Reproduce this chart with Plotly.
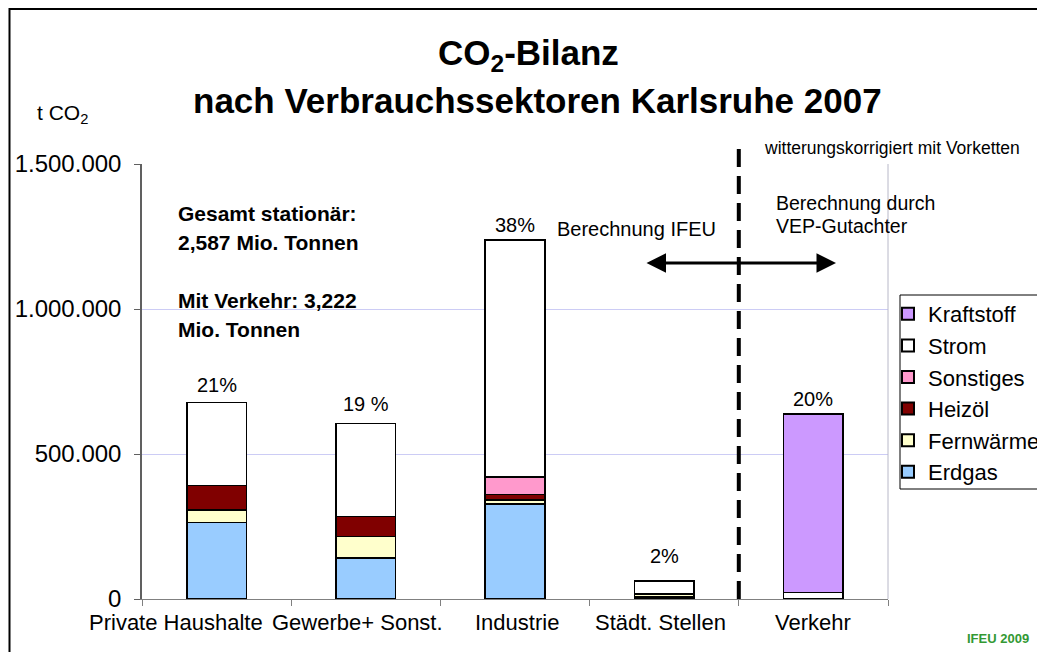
import plotly.graph_objects as go

categories = ["Private Haushalte", "Gewerbe+ Sonst.", "Industrie", "Städt. Stellen", "Verkehr"]
erdgas = [263000, 141000, 328000, 7000, None]
fernwaerme = [44000, 75000, 13000, 10000, None]
heizoel = [84000, 69000, 20000, 2000, None]
sonstiges = [None, None, 60000, None, None]
strom = [287000, 321000, 817000, 43000, 23000]
kraftstoff = [None, None, None, None, 615000]
percent_labels = ["21%", "19 %", "38%", "2%", "20%"]
y_ticks = [0, 500000, 1000000, 1500000]

series = [
    ("Erdgas", erdgas, "#99CCFF"),
    ("Fernwärme", fernwaerme, "#FFFFCC"),
    ("Heizöl", heizoel, "#800000"),
    ("Sonstiges", sonstiges, "#FF99CC"),
    ("Strom", strom, "#FFFFFF"),
    ("Kraftstoff", kraftstoff, "#CC99FF"),
]

FONT = "Liberation Sans, Arial, sans-serif"

# page offset (default body margin of the html page)
OFF = 8
# plot area in reference pixels
L, R, T, B = 142, 888, 164, 599
W, H = 1045 - OFF, 652 - OFF


def px(x):
    return (x - L) / (R - L)


def py(y):
    return (B - y) / (B - T)


fig = go.Figure()
for name, vals, col in series:
    fig.add_trace(go.Bar(
        x=categories, y=vals, name=name,
        marker=dict(color=col, line=dict(color="black", width=1.5)),
    ))

totals = [sum(v for v in vals if v is not None) for vals in zip(*[s[1] for s in series])]
shifts = [4, 6, 2, 12, 2]
annotations = []
for cat, tot, lab, sh in zip(categories, totals, percent_labels, shifts):
    annotations.append(dict(x=cat, y=tot, text=lab, showarrow=False, yanchor="bottom",
                            yshift=sh, font=dict(size=20, color="black", family=FONT)))

# category labels (Excel-like placement, slightly shifted to avoid overlap)
label_xshift = [-41, -8, 2, -4, 0]
for cat, xs in zip(categories, label_xshift):
    annotations.append(dict(x=cat, y=0, text=cat, showarrow=False, yanchor="middle",
                            xshift=xs, yshift=-23,
                            font=dict(size=22, color="black", family=FONT)))


def txt(text, x, y, size, xanchor="left", bold=False, color="black"):
    if bold:
        text = "<b>" + text + "</b>"
    annotations.append(dict(xref="paper", yref="paper", x=px(x), y=py(y), text=text,
                            showarrow=False, xanchor=xanchor, yanchor="middle", align="left",
                            font=dict(size=size, color=color, family=FONT)))


txt("CO<sub>2</sub>-Bilanz", 528, 55, 35, xanchor="center", bold=True)
txt("nach Verbrauchssektoren Karlsruhe 2007", 537, 100, 35, xanchor="center", bold=True)
txt("t CO<sub>2</sub>", 35, 114, 21)
txt("witterungskorrigiert mit Vorketten", 762, 148, 17.5)
txt("Berechnung durch", 774, 203, 19.5)
txt("VEP-Gutachter", 774, 226, 19.5)
txt("Berechnung IFEU", 555, 229, 20)
txt("Gesamt stationär:", 176, 213, 21, bold=True)
txt("2,587 Mio. Tonnen", 176, 242, 21, bold=True)
txt("Mit Verkehr: 3,222", 176, 300, 21, bold=True)
txt("Mio. Tonnen", 176, 329, 21, bold=True)
txt("IFEU 2009", 1031, 638, 13, xanchor="right", bold=True, color="#339933")

# double arrow
annotations.append(dict(xref="paper", yref="paper", x=px(836), y=py(263), ax=-191, ay=0,
                        text="", showarrow=True, arrowside="end+start", arrowhead=2,
                        arrowsize=1.3, arrowwidth=3, arrowcolor="black"))

shapes = [
    # dashed separator between Städt. Stellen and Verkehr
    dict(type="line", xref="x domain", yref="paper", x0=0.8, x1=0.8, y0=0, y1=py(140),
         line=dict(color="black", width=4, dash="18px,9px")),
    # right border of plot area
    dict(type="line", xref="paper", yref="paper", x0=1, x1=1, y0=0, y1=1,
         line=dict(color="#B8B8C8", width=1)),
    # outer frame
    dict(type="rect", xref="paper", yref="paper", x0=px(OFF + 1.5), x1=px(1100), y0=py(700),
         y1=py(OFF + 1), line=dict(color="black", width=2)),
    # legend box
    dict(type="rect", xref="paper", yref="paper", x0=px(900), x1=px(1080), y0=py(489), y1=py(295),
         line=dict(color="black", width=1), fillcolor="white"),
]

fig.update_layout(
    barmode="stack",
    bargap=0.6,
    width=W, height=H, autosize=False,
    margin=dict(l=L - OFF, r=W - (R - OFF), t=T - OFF, b=H - (B - OFF), pad=0, autoexpand=False),
    paper_bgcolor="white", plot_bgcolor="white",
    separators=",.",
    font=dict(family=FONT, color="black"),
    showlegend=True,
    legend=dict(xref="container", yref="container", x=(888 - OFF) / W, y=1 - (293 - OFF) / H,
                xanchor="left", yanchor="top",
                traceorder="reversed", bgcolor="rgba(0,0,0,0)", borderwidth=0,
                font=dict(size=22, family=FONT, color="black"), itemsizing="constant"),
    annotations=annotations,
    shapes=shapes,
    xaxis=dict(range=[-0.5, 4.5], autorange=False,
               showgrid=False, showline=True, linecolor="#808080", linewidth=1,
               ticks="outside", tickson="boundaries", ticklen=6, tickcolor="#808080",
               showticklabels=False, automargin=False),
    yaxis=dict(range=[0, 1500000], tickvals=y_ticks, tickformat=",d",
               showgrid=True, gridcolor="#CCCCF5", gridwidth=1,
               showline=True, linecolor="#606060", linewidth=1.5,
               ticks="outside", ticklen=6, tickcolor="#606060",
               ticklabelstandoff=8,
               zeroline=False, automargin=False,
               tickfont=dict(size=24, family=FONT, color="black")),
)

fig.write_html("out.html")
